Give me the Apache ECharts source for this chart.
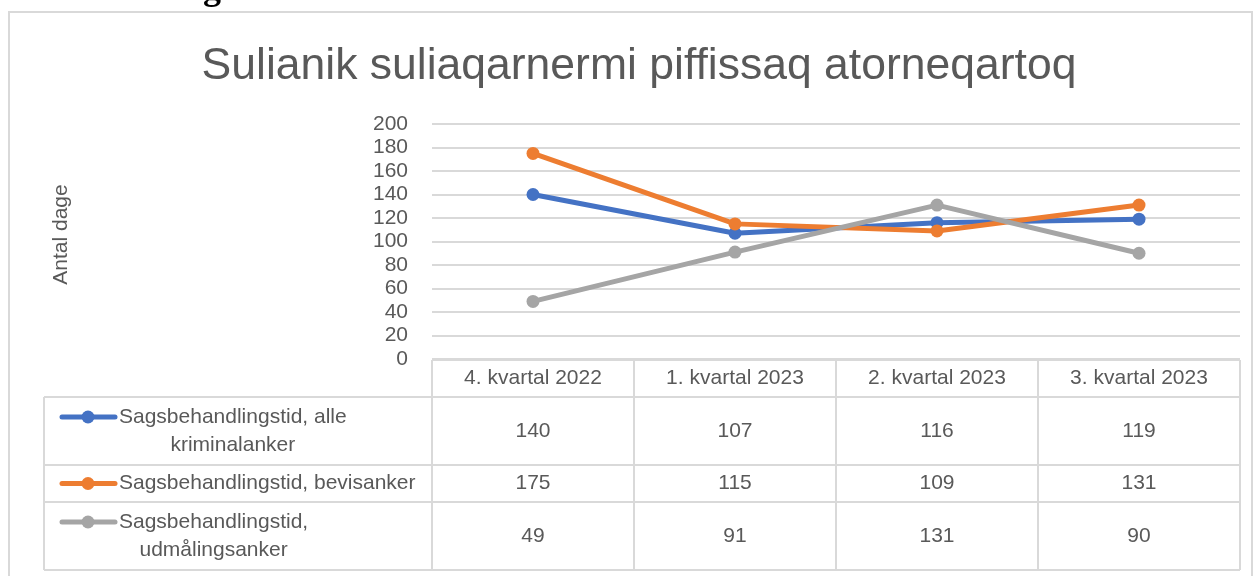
<!DOCTYPE html>
<html>
<head>
<meta charset="utf-8">
<script src="https://cdn.jsdelivr.net/npm/echarts@6/dist/echarts.min.js"></script>
<style>
  html, body { margin: 0; padding: 0; background: #fff; }
  #chart { width: 1258px; height: 576px; }
</style>
</head>
<body>
<div id="chart"></div>
<script>
var categories = ['4. kvartal 2022', '1. kvartal 2023', '2. kvartal 2023', '3. kvartal 2023'];
var alleKriminalanker = [140, 107, 116, 119];
var bevisanker = [175, 115, 109, 131];
var udmaalingsanker = [49, 91, 131, 90];
var seriesNames = ['Sagsbehandlingstid, alle kriminalanker', 'Sagsbehandlingstid, bevisanker', 'Sagsbehandlingstid, udmålingsanker'];
var legendLines = [['Sagsbehandlingstid, alle', 'kriminalanker'], ['Sagsbehandlingstid, bevisanker'], ['Sagsbehandlingstid,', 'udmålingsanker']];
var colors = ['#4472C4', '#ED7D31', '#A5A5A5'];

var FONT = 'Liberation Sans';
var FS = 21;
var TXT = '#595959';
var BORDER = '#d9d9d9';

// plot area, in pixels
var gLeft = 432, gRight = 1240, gTop = 124, gBottom = 359;
// table rows (y of lines)
var rows = [360, 397, 465, 502, 570];
var tableLeft = 44;

var chart = echarts.init(document.getElementById('chart'), null, {renderer: 'canvas'});

var seriesData = [alleKriminalanker, bevisanker, udmaalingsanker];
var series = seriesData.map(function (d, i) {
    return {
        name: seriesNames[i],
        type: 'line',
        data: d,
        symbol: 'circle',
        symbolSize: 13,
        lineStyle: {width: 5, color: colors[i]},
        itemStyle: {color: colors[i]},
        z: 3 + i
    };
});

var option = {
    animation: false,
    color: colors,
    title: {
        text: 'Sulianik suliaqarnermi piffissaq atorneqartoq',
        left: 634,
        textAlign: 'center',
        top: 39,
        textStyle: {fontFamily: FONT, fontSize: 44.5, fontWeight: 'normal', color: TXT}
    },
    grid: {left: gLeft, right: 1258 - gRight, top: gTop, bottom: 576 - gBottom},
    xAxis: {
        type: 'category',
        data: categories,
        boundaryGap: true,
        axisLine: {show: false},
        axisTick: {show: false},
        axisLabel: {margin: 9, fontFamily: FONT, fontSize: FS, color: TXT}
    },
    yAxis: {
        type: 'value',
        min: 0,
        max: 200,
        interval: 20,
        name: 'Antal dage',
        nameLocation: 'middle',
        nameGap: 360,
        nameTextStyle: {fontFamily: FONT, fontSize: 21, color: TXT, padding: [0, 0, 0, 14]},
        axisLine: {show: false},
        axisTick: {show: false},
        axisLabel: {margin: 24, fontFamily: FONT, fontSize: FS, color: TXT},
        splitLine: {lineStyle: {color: BORDER, width: 2}}
    },
    series: series
};
chart.setOption(option);

// data table below the plot
var measure = document.createElement('canvas').getContext('2d');
var els = [];
// outer frame
els.push({type: 'rect', shape: {x: 9, y: 12, width: 1243, height: 600},
    style: {fill: null, stroke: BORDER, lineWidth: 2}, silent: true});
// bottom of a bold text line above the frame
els.push({type: 'text', x: 203, y: 8, style: {text: 'g', font: 'bold 36px "Liberation Serif"',
    fill: '#000', textVerticalAlign: 'bottom'}});

// horizontal lines
rows.forEach(function (y, i) {
    els.push({type: 'line', shape: {x1: i === 0 ? gLeft : tableLeft, y1: y, x2: gRight, y2: y},
        style: {stroke: BORDER, lineWidth: 2}, silent: true});
});
// vertical lines
var colW = (gRight - gLeft) / categories.length;
for (var c = 0; c <= categories.length; c++) {
    els.push({type: 'line', shape: {x1: gLeft + c * colW, y1: rows[0], x2: gLeft + c * colW, y2: rows[4]},
        style: {stroke: BORDER, lineWidth: 2}, silent: true});
}
els.push({type: 'line', shape: {x1: tableLeft, y1: rows[1], x2: tableLeft, y2: rows[4]},
    style: {stroke: BORDER, lineWidth: 2}, silent: true});

// values and legend keys
measure.font = FS + 'px "' + FONT + '"';
seriesData.forEach(function (d, i) {
    var yTop = rows[i + 1], yBot = rows[i + 2];
    var yMid = (yTop + yBot) / 2;
    d.forEach(function (v, j) {
        var px = chart.convertToPixel({xAxisIndex: 0}, categories[j]);
        els.push({type: 'text', x: px, y: yMid, style: {text: String(v), fontFamily: FONT, fontSize: FS,
            fill: TXT, textAlign: 'center', textVerticalAlign: 'middle'}});
    });
    var lines = legendLines[i];
    var lineH = 28;
    var firstY = yMid - (lines.length - 1) * lineH / 2;
    var textX = 119;
    var w0 = measure.measureText(lines[0]).width;
    lines.forEach(function (t, k) {
        els.push({type: 'text', x: textX + w0 / 2, y: firstY + k * lineH, style: {text: t, fontFamily: FONT,
            fontSize: FS, fill: TXT, textAlign: 'center', textVerticalAlign: 'middle'}});
    });
    els.push({type: 'line', shape: {x1: 62, y1: firstY, x2: 115, y2: firstY},
        style: {stroke: colors[i], lineWidth: 5, lineCap: 'round'}});
    els.push({type: 'circle', shape: {cx: 88, cy: firstY, r: 6.5}, style: {fill: colors[i]}});
});

chart.setOption({graphic: {elements: els}});
</script>
</body>
</html>
